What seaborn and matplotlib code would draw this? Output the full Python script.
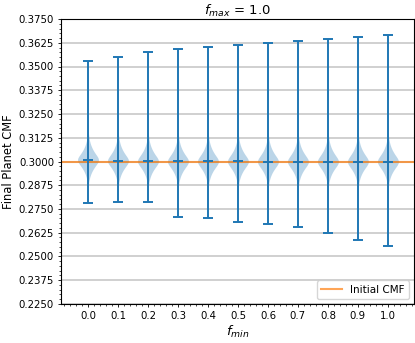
import numpy as np
import pandas as pd
import matplotlib
matplotlib.use("Agg")
import matplotlib.pyplot as plt
import seaborn as sns
from matplotlib.ticker import MultipleLocator, FormatStrFormatter

# f_min values on the x axis
f_min = [0.0, 0.1, 0.2, 0.3, 0.4, 0.5, 0.6, 0.7, 0.8, 0.9, 1.0]

# centre, lowest and highest final CMF per run
centres = [0.3009, 0.3004, 0.3002, 0.3001, 0.3001, 0.3001, 0.3000, 0.3000, 0.3000, 0.3000, 0.3000]
lowest = [0.2782, 0.2787, 0.2785, 0.2709, 0.2703, 0.2682, 0.2669, 0.2657, 0.2624, 0.2588, 0.2555]
highest = [0.3529, 0.3552, 0.3575, 0.3592, 0.3604, 0.3615, 0.3625, 0.3636, 0.3646, 0.3657, 0.3667]

# shape of the violin body: offsets from the centre and how many runs sit there
core_offsets = [-0.015, -0.014, -0.013, -0.012, -0.011, -0.010, -0.009, -0.008, -0.007,
                -0.006, -0.005, -0.004, -0.003, -0.002, -0.001, 0.0, 0.001, 0.002,
                0.003, 0.004, 0.005, 0.006, 0.007, 0.008, 0.009, 0.010, 0.011,
                0.012, 0.013, 0.014, 0.015, 0.016]
core_counts = [1, 1, 2, 3, 4, 6, 8, 11, 14, 18, 23, 29, 35, 42, 50, 60, 50, 42,
               35, 29, 24, 19, 15, 12, 9, 7, 5, 4, 3, 2, 1, 1]

initial_cmf = 0.3

# build the sample table
rows = []
for fm, c, lo, hi in zip(f_min, centres, lowest, highest):
    vals = list(np.repeat(np.array(core_offsets) + c, core_counts)) + [lo, hi]
    for v in vals:
        rows.append({"f_min": fm, "cmf": v})
df = pd.DataFrame(rows)

fig = plt.figure(figsize=(4.15, 3.43), dpi=100)
ax = fig.add_axes([61 / 415, 1 - 304 / 343, 353 / 415, 285 / 343])

sns.violinplot(data=df, x="f_min", y="cmf", native_scale=True, cut=0, inner=None,
               width=0.7, density_norm="width", color="C0", saturation=1,
               linewidth=0, alpha=0.3, ax=ax)

ax.axhline(initial_cmf, color="C1", alpha=0.7, lw=1.5, label="Initial CMF")

# extrema and median lines, like matplotlib's violinplot
groups = df.groupby("f_min")["cmf"]
xs = np.array(list(groups.groups.keys()))
mins = groups.min().values
maxs = groups.max().values
meds = groups.median().values
cap = 0.0175
ax.vlines(xs, mins, maxs, color="C0", lw=1.4)
ax.hlines(maxs, xs - cap, xs + cap, color="C0", lw=1.4)
ax.hlines(mins, xs - cap, xs + cap, color="C0", lw=1.4)
ax.hlines(meds, xs - cap, xs + cap, color="C0", lw=1.4)

ax.set_xlim(-0.09, 1.087)
ax.set_ylim(0.225, 0.375)
ax.set_xticks(f_min)
ax.set_xticklabels([f"{v:.1f}" for v in f_min])
ax.xaxis.set_minor_locator(MultipleLocator(0.02))
ax.yaxis.set_major_locator(MultipleLocator(0.0125))
ax.yaxis.set_minor_locator(MultipleLocator(0.0025))
ax.yaxis.set_major_formatter(FormatStrFormatter("%.4f"))
ax.tick_params(axis="both", which="major", labelsize=7.3, length=2.5, width=0.6, pad=2.5)
ax.tick_params(axis="both", which="minor", length=1.5, width=0.5)

ax.grid(axis="y", which="major", color="#c4c4c4", lw=1.1)
ax.set_axisbelow(True)

ax.set_title("$f_{max}$ = 1.0", fontsize=9.5, pad=3)
ax.set_xlabel("$f_{min}$", fontsize=9.5, labelpad=2)
ax.set_ylabel("Final Planet CMF", fontsize=8.3, labelpad=3)
ax.legend(loc="lower right", fontsize=7.5)

fig.savefig("out.png", dpi=100)
